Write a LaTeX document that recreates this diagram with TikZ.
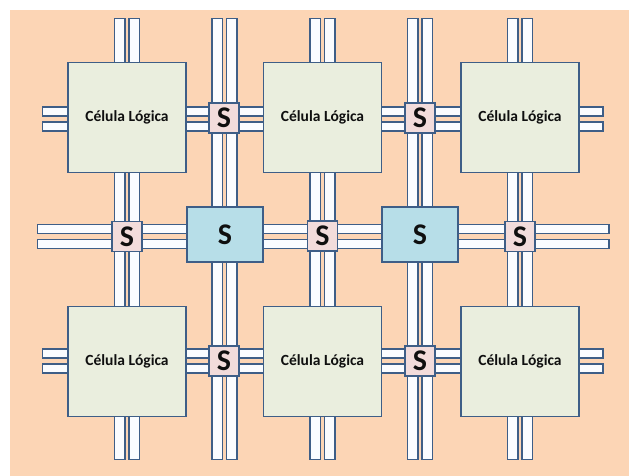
\documentclass[tikz,border=0pt]{standalone}
\usepackage{fontspec}
\setmainfont{Carlito}
\definecolor{peach}{RGB}{252,213,181}
\definecolor{bord}{RGB}{62,94,135}
\definecolor{cellfill}{RGB}{234,238,222}
\definecolor{pinkfill}{RGB}{242,220,219}
\definecolor{bluefill}{RGB}{183,222,232}
\definecolor{barfill}{RGB}{250,252,255}
\definecolor{txt}{RGB}{15,15,15}
\tikzset{
  bar/.style={draw=bord, fill=barfill, line width=1.5pt},
  cell/.style={draw=bord, fill=cellfill, line width=1.5pt, minimum width=118pt, minimum height=110pt, inner sep=0pt, text=txt, font=\bfseries\fontsize{15.5}{18}\selectfont},
  sw/.style={draw=bord, fill=pinkfill, line width=1.4pt, minimum width=30pt, minimum height=30pt, inner sep=0pt, text=txt, font=\bfseries\fontsize{30}{30}\selectfont},
  bigsw/.style={draw=bord, fill=bluefill, line width=1.4pt, minimum width=76pt, minimum height=55pt, inner sep=0pt, text=txt, font=\bfseries\fontsize{30}{30}\selectfont}
}
\begin{document}
\begin{tikzpicture}[x=1pt,y=-1pt]
\useasboundingbox (0,0) rectangle (629,476);
\fill[peach] (10,10) rectangle (629,476);
% vertical wire pairs
\foreach \cx in {127,224.5,322.5,420,520} {
  \draw[bar] (\cx-12.5,18.5) rectangle (\cx-2,459.5);
  \draw[bar] (\cx+2,18.5) rectangle (\cx+12.5,459.5);
}
% horizontal wire pairs
\foreach \cy/\xa/\xb in {119/42.5/603, 236.5/37.5/609, 361/42.5/603} {
  \draw[bar] (\xa,\cy-12) rectangle (\xb,\cy-3);
  \draw[bar] (\xa,\cy+3) rectangle (\xb,\cy+12);
}
% logic cells
\node[cell] (c11) at (127,117.5) {Célula Lógica};
\node[cell] (c12) at (322.5,117.5) {Célula Lógica};
\node[cell] (c13) at (520,117.5) {Célula Lógica};
\node[cell] (c21) at (127,361.5) {Célula Lógica};
\node[cell] (c22) at (322.5,361.5) {Célula Lógica};
\node[cell] (c23) at (520,361.5) {Célula Lógica};
% small switches
\node[sw] (s1) at (224,118) {S};
\node[sw] (s2) at (420,118) {S};
\node[sw] (s3) at (127,236.5) {S};
\node[sw] (s4) at (322.5,236) {S};
\node[sw] (s5) at (520,236.5) {S};
\node[sw] (s6) at (224,361) {S};
\node[sw] (s7) at (420,361) {S};
% big switches
\node[bigsw] (b1) at (225,234.5) {S};
\node[bigsw] (b2) at (420,234.5) {S};
\end{tikzpicture}
\end{document}
